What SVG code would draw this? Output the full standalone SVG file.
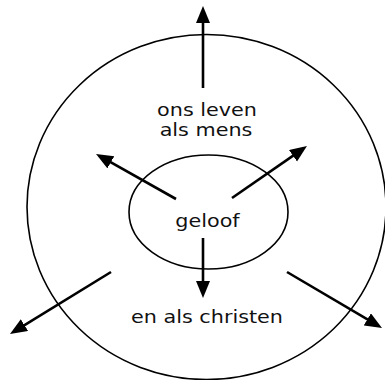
<svg xmlns="http://www.w3.org/2000/svg" width="385" height="380" viewBox="0 0 385 380">
<style>
.ring{fill:none;stroke:#000;stroke-width:1.6}
.conn{stroke:#000;stroke-width:2.6;fill:none;marker-end:url(#ah)}
text{font-family:"DejaVu Sans",Verdana,sans-serif;font-size:17px;fill:#111;text-anchor:middle}
</style>
<defs>
<marker id="ah" markerUnits="userSpaceOnUse" markerWidth="18" markerHeight="15" refX="9" refY="7" orient="auto">
<path d="M0,0 L17,7 L0,14 z" fill="#000"/>
</marker>
</defs>
<rect width="385" height="380" fill="#fff"/>
<g id="outer">
<ellipse class="ring" cx="206.5" cy="207" rx="179.5" ry="172.5"/>
<text transform="translate(207,116) scale(1.22,1)">ons leven</text>
<text transform="translate(206,136) scale(1.22,1)">als mens</text>
<text transform="translate(207,323) scale(1.22,1)">en als christen</text>
</g>
<g id="inner">
<ellipse class="ring" cx="208.5" cy="212" rx="79.5" ry="57"/>
<text transform="translate(207.5,227) scale(1.22,1)">geloof</text>
</g>
<g id="connectors">
<line class="conn" x1="203" y1="88" x2="203" y2="14"/>
<line class="conn" x1="176" y1="199" x2="103" y2="157.9"/>
<line class="conn" x1="232" y1="198" x2="300.4" y2="150.6"/>
<line class="conn" x1="203" y1="238" x2="203" y2="290"/>
<line class="conn" x1="111" y1="272" x2="16.8" y2="329.8"/>
<line class="conn" x1="287" y1="272" x2="375.1" y2="323.9"/>
</g>
</svg>
